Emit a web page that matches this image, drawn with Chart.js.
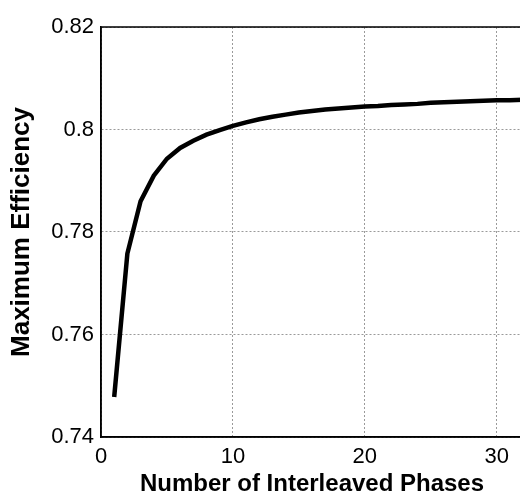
<!DOCTYPE html>
<html>
<head>
<meta charset="utf-8">
<script src="https://cdn.jsdelivr.net/npm/chart.js@4/dist/chart.umd.min.js"></script>
<style>
  html, body { margin: 0; padding: 0; background: #fff; overflow: hidden; }
  #wrap { position: relative; width: 526px; height: 496px; }
</style>
</head>
<body>
<div id="wrap"><canvas id="eff"></canvas></div>
<script>
/* ======== Data ======== */
const phases = [1, 2, 3, 4, 5, 6, 7, 8, 9, 10, 11, 12, 13, 14, 15, 16,
                17, 18, 19, 20, 21, 22, 23, 24, 25, 26, 27, 28, 29, 30, 31, 32];
const efficiency = [0.7478, 0.7758, 0.7860, 0.7910, 0.7943, 0.7964, 0.7978, 0.7990,
                    0.7999, 0.8007, 0.8014, 0.8020, 0.8025, 0.8029, 0.8033, 0.8036,
                    0.8039, 0.8041, 0.8043, 0.8045, 0.8046, 0.8048, 0.8049, 0.8050,
                    0.8052, 0.8053, 0.8054, 0.8055, 0.8056, 0.8057, 0.8057, 0.8058];
const xTicks = [0, 10, 20, 30];
const yTicks = [0.74, 0.76, 0.78, 0.8, 0.82];

/* ======== Frame plugin (box around plot area) ======== */
const frame = {
    id: 'frame',
    afterDraw(chart) {
        const { ctx, chartArea: a } = chart;
        ctx.save();
        ctx.strokeStyle = '#000';
        ctx.lineWidth = 1.5;
        ctx.strokeRect(a.left, a.top, a.right - a.left, a.bottom - a.top);
        ctx.restore();
    }
};

const family = "'Liberation Sans', Arial, sans-serif";
const tickFont = { family: family, size: 22 };
const grid = { color: '#9a9a9a', lineWidth: 1, drawTicks: false };

new Chart(document.getElementById('eff'), {
    type: 'line',
    data: {
        datasets: [{
            data: phases.map((p, i) => ({ x: p, y: efficiency[i] })),
            borderColor: '#000',
            borderWidth: 4.5,
            pointRadius: 0,
            tension: 0,
            fill: false
        }]
    },
    options: {
        responsive: true,
        maintainAspectRatio: false,
        animation: false,
        layout: { padding: { left: 0, top: 27, right: 3, bottom: 0 } },
        plugins: { legend: { display: false }, tooltip: { enabled: false } },
        scales: {
            x: {
                type: 'linear',
                min: 0, max: 32,
                afterBuildTicks: (s) => { s.ticks = xTicks.map(v => ({ value: v })); },
                afterFit: (s) => { s.height = 59; },
                grid: grid,
                border: { color: '#000', width: 1.5, dash: [2, 2] },
                ticks: { color: '#000', font: tickFont, padding: 7, maxRotation: 0 },
                title: {
                    display: true, text: 'Number of Interleaved Phases', color: '#000',
                    font: { family: family, size: 24, weight: 'bold' },
                    padding: { top: 0, bottom: -3 }
                }
            },
            y: {
                min: 0.74, max: 0.82,
                afterBuildTicks: (s) => { s.ticks = yTicks.map(v => ({ value: v })); },
                afterFit: (s) => { s.width = 101; },
                grid: grid,
                border: { color: '#000', width: 1.5, dash: [2, 2] },
                ticks: {
                    color: '#000', font: tickFont, padding: 7,
                    callback: (v) => String(Number(v.toFixed(2)))
                },
                title: {
                    display: true, text: 'Maximum Efficiency', color: '#000',
                    font: { family: family, size: 26, weight: 'bold' },
                    padding: { top: 6, bottom: 0 }
                }
            }
        }
    },
    plugins: [frame]
});
</script>
</body>
</html>
